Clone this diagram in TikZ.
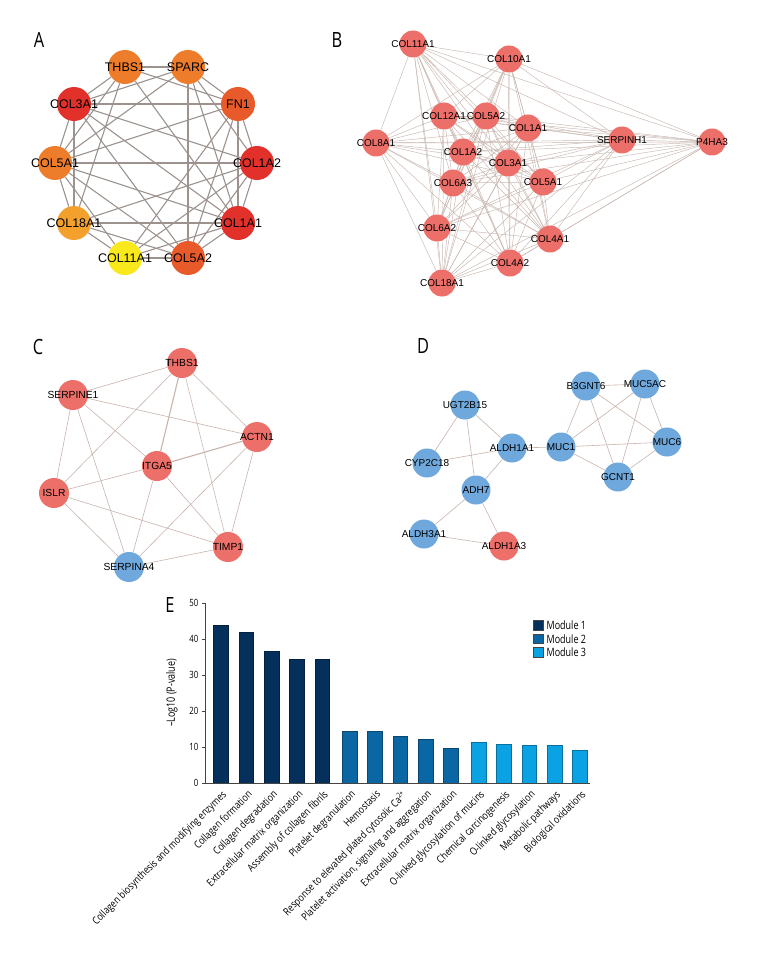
\documentclass[tikz,border=0pt]{standalone}
\usepackage{fontspec}
\setmainfont{Liberation Sans}
\newfontfamily\condf[FakeStretch=0.78]{Open Sans}
\newfontfamily\condl[FakeStretch=0.82]{Open Sans}
\pgfdeclarelayer{bg}
\pgfdeclarelayer{paper}
\pgfsetlayers{paper,bg,main}
\definecolor{aorange}{HTML}{EE7D2B}
\definecolor{aredor}{HTML}{E85A2A}
\definecolor{ared}{HTML}{E2302A}
\definecolor{ayellow}{HTML}{F8E81C}
\definecolor{aamber}{HTML}{F3A12C}
\definecolor{salmon}{HTML}{EC6F6A}
\definecolor{skyblue}{HTML}{6FA8DC}
\definecolor{aedge}{HTML}{9C938E}
\definecolor{bedge}{HTML}{C9B8B0}
\definecolor{cedge}{HTML}{C8B4AC}
\definecolor{mone}{HTML}{06305C}
\definecolor{mtwo}{HTML}{0A67A3}
\definecolor{mthree}{HTML}{0AA2E2}
\definecolor{axisgrey}{HTML}{444444}
\tikzset{
  anode/.style={circle, fill=#1, minimum size=34pt, inner sep=0pt, font=\fontsize{12.5}{14}\selectfont},
  bnode/.style={circle, fill=salmon, minimum size=27pt, inner sep=0pt, font=\fontsize{10}{12}\selectfont},
  cnode/.style={circle, fill=#1, minimum size=30pt, inner sep=0pt, font=\fontsize{10.3}{12}\selectfont},
  dnode/.style={circle, fill=#1, minimum size=29pt, inner sep=0pt, font=\fontsize{10}{12}\selectfont},
  aedgestyle/.style={draw=aedge, line width=1.1pt},
  bedgestyle/.style={draw=bedge, line width=0.45pt},
  cedgestyle/.style={draw=cedge, line width=0.6pt},
  panellab/.style={font=\condf\fontsize{21}{24}\selectfont, inner sep=0pt},
  ticklab/.style={font=\condf\fontsize{10}{11}\selectfont, anchor=east, inner sep=1pt},
  xlab/.style={font=\condl\fontsize{10.5}{12}\selectfont, rotate=45, anchor=north east, inner sep=0.5pt},
  legsq/.style={fill=#1, draw=axisgrey, line width=0.5pt, minimum width=10pt, minimum height=9.5pt, inner sep=0pt},
  legtxt/.style={font=\condf\fontsize{11.5}{13}\selectfont, anchor=west, inner sep=0pt},
  barstyle/.style={fill=#1, draw=#1!70!black, line width=0.5pt}
}
\begin{document}
\begin{tikzpicture}[x=1pt,y=-1pt]
\useasboundingbox (0,0) rectangle (756,960);
\begin{pgfonlayer}{paper}
\fill[white] (0,0) rectangle (756,960);
\end{pgfonlayer}

% ---------------- Panel A ----------------
\node[panellab] (labA) at (39,40) {A};
\node[anode=aorange] (a1) at (125,67) {\makebox[0pt]{THBS1}};
\node[anode=aorange] (a2) at (188,67) {\makebox[0pt]{SPARC}};
\node[anode=aredor] (a3) at (238,104) {\makebox[0pt]{FN1}};
\node[anode=ared] (a4) at (257,163) {\makebox[0pt]{COL1A2}};
\node[anode=ared] (a5) at (238,223) {\makebox[0pt]{COL1A1}};
\node[anode=aredor] (a6) at (188,258) {\makebox[0pt]{COL5A2}};
\node[anode=ayellow] (a7) at (125,258) {\makebox[0pt]{COL11A1}};
\node[anode=aamber] (a8) at (74,223) {\makebox[0pt]{COL18A1}};
\node[anode=aorange] (a9) at (55,163) {\makebox[0pt]{COL5A1}};
\node[anode=ared] (a10) at (74,104) {\makebox[0pt]{COL3A1}};
\begin{pgfonlayer}{bg}
\foreach \p/\q in {1/2,2/3,3/4,4/5,5/6,6/7,7/8,8/9,9/10,10/1,
  1/3,3/5,5/7,4/6,6/8,7/9,8/10,9/1,10/2,2/4,
  10/3,9/4,8/5,2/6,1/5,1/8,2/9,3/9,10/4,10/5,10/6,9/5,9/6,8/4,7/4,7/3,2/5,3/6}
  \draw[aedgestyle] (a\p) -- (a\q);
\end{pgfonlayer}

% ---------------- Panel B ----------------
\node[panellab] (labB) at (337,40) {B};
\node[bnode] (b1) at (413,44) {\makebox[0pt]{COL11A1}};
\node[bnode] (b2) at (509,59) {\makebox[0pt]{COL10A1}};
\node[bnode] (b3) at (444,116) {\makebox[0pt]{COL12A1}};
\node[bnode] (b4) at (486,116) {\makebox[0pt]{COL5A2}};
\node[bnode] (b5) at (528,128) {\makebox[0pt]{COL1A1}};
\node[bnode] (b6) at (376,143) {\makebox[0pt]{COL8A1}};
\node[bnode] (b7) at (622,140) {\makebox[0pt]{SERPINH1}};
\node[bnode] (b8) at (712,142) {\makebox[0pt]{P4HA3}};
\node[bnode] (b9) at (463,152) {\makebox[0pt]{COL1A2}};
\node[bnode] (b10) at (508,163) {\makebox[0pt]{COL3A1}};
\node[bnode] (b11) at (453,183) {\makebox[0pt]{COL6A3}};
\node[bnode] (b12) at (543,182) {\makebox[0pt]{COL5A1}};
\node[bnode] (b13) at (437,228) {\makebox[0pt]{COL6A2}};
\node[bnode] (b14) at (550,239) {\makebox[0pt]{COL4A1}};
\node[bnode] (b15) at (510,263) {\makebox[0pt]{COL4A2}};
\node[bnode] (b16) at (442,283) {\makebox[0pt]{COL18A1}};
\begin{pgfonlayer}{bg}
\foreach \p in {1,...,16}{
  \foreach \q in {1,...,16}{
    \ifnum\q>\p \draw[bedgestyle] (b\p) -- (b\q);\fi
  }
}
\end{pgfonlayer}

% ---------------- Panel C ----------------
\node[panellab] (labC) at (38,347) {C};
\node[cnode=salmon] (c1) at (182,363) {\makebox[0pt]{THBS1}};
\node[cnode=salmon] (c2) at (73,395) {\makebox[0pt]{SERPINE1}};
\node[cnode=salmon] (c3) at (257,437) {\makebox[0pt]{ACTN1}};
\node[cnode=salmon] (c4) at (157,466) {\makebox[0pt]{ITGA5}};
\node[cnode=salmon] (c5) at (54,493) {\makebox[0pt]{ISLR}};
\node[cnode=salmon] (c6) at (228,547) {\makebox[0pt]{TIMP1}};
\node[cnode=skyblue] (c7) at (129,567) {\makebox[0pt]{SERPINA4}};
\begin{pgfonlayer}{bg}
\foreach \p/\q in {1/2,1/3,1/6,1/5,2/3,2/4,2/5,2/7,4/5,4/6,4/7,5/6,5/7,3/6,3/7,6/7}
  \draw[cedgestyle] (c\p) -- (c\q);
\draw[cedgestyle, line width=1.1pt] (c1) -- (c4);
\draw[cedgestyle, line width=1.1pt] (c4) -- (c3);
\end{pgfonlayer}

% ---------------- Panel D ----------------
\node[panellab] (labD) at (423,346) {D};
\node[dnode=skyblue] (d1) at (465,405) {\makebox[0pt]{UGT2B15}};
\node[dnode=skyblue] (d2) at (427,463) {\makebox[0pt]{CYP2C18}};
\node[dnode=skyblue] (d3) at (512,448) {\makebox[0pt]{ALDH1A1}};
\node[dnode=skyblue] (d4) at (476,490) {\makebox[0pt]{ADH7}};
\node[dnode=skyblue] (d5) at (424,534) {\makebox[0pt]{ALDH3A1}};
\node[dnode=salmon] (d6) at (504,546) {\makebox[0pt]{ALDH1A3}};
\node[dnode=skyblue] (d7) at (561,447) {\makebox[0pt]{MUC1}};
\node[dnode=skyblue] (d8) at (586,386) {\makebox[0pt]{B3GNT6}};
\node[dnode=skyblue] (d9) at (645,384) {\makebox[0pt]{MUC5AC}};
\node[dnode=skyblue] (d10) at (667,442) {\makebox[0pt]{MUC6}};
\node[dnode=skyblue] (d11) at (618,477) {\makebox[0pt]{GCNT1}};
\begin{pgfonlayer}{bg}
\foreach \p/\q in {1/2,1/3,1/4,2/3,3/4,3/7,4/5,4/6,5/6,8/9,8/7,8/11,8/10,9/7,9/11,9/10,7/10,7/11,10/11}
  \draw[cedgestyle] (d\p) -- (d\q);
\end{pgfonlayer}

% ---------------- Panel E ----------------
\node[panellab] (labE) at (170,605) {E};
\coordinate (yaxtop) at (205,603);
\coordinate (origin) at (205,783);
\coordinate (xaxend) at (590,783);
\foreach \v in {0,10,20,30,40,50}{
  \draw[axisgrey, line width=0.7pt] (202,{783-3.6*\v}) -- (205,{783-3.6*\v});
  \node[ticklab] (tick\v) at (199.5,{783-3.6*\v}) {\v};
}
\node[font=\condf\fontsize{11.5}{13}\selectfont, rotate=90, inner sep=0pt] (ytitle) at (172,693) {–Log10 (P-value)};
\foreach \xl/\v/\c/\t [count=\i] in {
  213.3/43.8/mone/{Collagen biosynthesis and modifying enzymes},
  239.0/42.0/mone/{Collagen formation},
  264.3/36.7/mone/{Collagen degradation},
  289.6/34.4/mone/{Extracellular matrix organization},
  314.8/34.4/mone/{Assembly of collagen fibrils},
  342.3/14.4/mtwo/{Platelet degranulation},
  367.7/14.25/mtwo/{Hemostasis},
  393.0/13.1/mtwo/{Response to elevated plated cytosolic Ca\textsuperscript{2+}},
  418.3/12.2/mtwo/{Platelet activation, signaling and aggregation},
  443.6/9.6/mtwo/{Extracellular matrix organization},
  471.3/11.4/mthree/{O-linked glycosylation of mucins},
  496.7/10.8/mthree/{Chemical carcinogenesis},
  522.0/10.55/mthree/{O-linked glycosylation},
  547.3/10.4/mthree/{Metabolic pathways},
  572.7/9.1/mthree/{Biological oxidations}}{
  \draw[barstyle=\c] (\xl,783) rectangle ({\xl+14.7},{783-3.6*\v});
  \node[xlab] (xl\i) at ({\xl+8},788.5) {\t};
}
\draw[axisgrey, line width=0.8pt] (yaxtop) -- (origin) -- (xaxend);
\node[legsq=mone] (lg1) at (538.3,625.3) {};
\node[legsq=mtwo] (lg2) at (538.3,638.7) {};
\node[legsq=mthree] (lg3) at (538.3,652.0) {};
\node[legtxt] (lt1) at (546.5,625.3) {Module 1};
\node[legtxt] (lt2) at (546.5,638.7) {Module 2};
\node[legtxt] (lt3) at (546.5,652.0) {Module 3};
\end{tikzpicture}
\end{document}
